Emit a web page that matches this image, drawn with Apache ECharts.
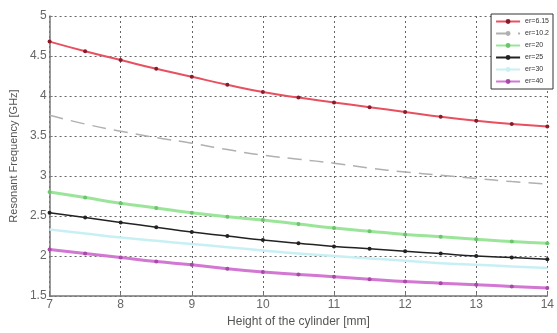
<!DOCTYPE html>
<html><head><meta charset="utf-8">
<script src="https://cdn.jsdelivr.net/npm/echarts@6/dist/echarts.min.js"></script>
<style>html,body{margin:0;padding:0;background:#fff}#c{width:557px;height:333px}</style>
</head><body><div id="c"></div>
<script>
const heights = [7,7.5,8,8.5,9,9.5,10,10.5,11,11.5,12,12.5,13,13.5,14];
const seriesNames = ['er=6.15','er=10.2','er=20','er=25','er=30','er=40'];
const er615 = [4.68,4.56,4.45,4.34,4.24,4.14,4.05,3.98,3.92,3.86,3.80,3.74,3.69,3.65,3.62];
const er102 = [3.76,3.65,3.56,3.48,3.41,3.33,3.26,3.21,3.16,3.10,3.05,3.01,2.97,2.93,2.90];
const er20  = [2.80,2.73,2.66,2.60,2.54,2.49,2.45,2.40,2.35,2.31,2.27,2.24,2.21,2.18,2.16];
const er25  = [2.54,2.48,2.42,2.36,2.30,2.25,2.20,2.16,2.12,2.09,2.06,2.03,2.00,1.98,1.96];
const er30  = [2.33,2.28,2.23,2.19,2.15,2.11,2.07,2.03,2.00,1.97,1.94,1.91,1.89,1.87,1.85];
const er40  = [2.08,2.03,1.98,1.93,1.89,1.84,1.80,1.77,1.74,1.71,1.68,1.66,1.64,1.62,1.60];
const yTicks = [1.5,2,2.5,3,3.5,4,4.5,5];
const xTicks = [7,8,9,10,11,12,13,14];

const pair = arr => heights.map((h,i)=>[h,arr[i]]);
const styles = [
  {c:'#e8505f', w:2, t:'solid', sym:'circle', ss:4, sc:'#8a1a2a'},
  {c:'#b0b0b0', w:1.5, t:[14,8], sym:'none'},
  {c:'#9be59b', w:3, t:'solid', sym:'circle', ss:4, sc:'#6cc46c'},
  {c:'#222222', w:1.5, t:'solid', sym:'circle', ss:4, sc:'#222222'},
  {c:'#c8f0f4', w:2.5, t:'solid', sym:'none'},
  {c:'#d277d2', w:3, t:'solid', sym:'circle', ss:4, sc:'#a64aa6'}
];
const datas = [er615, er102, er20, er25, er30, er40];
const gridLine = {show:true, lineStyle:{color:'#666', type:[2,3], width:1}};
const chart = echarts.init(document.getElementById('c'), null, {renderer:'canvas'});
chart.setOption({
  animation:false,
  textStyle:{fontFamily:'Liberation Sans, Arial, sans-serif'},
  grid:{left:49, right:4, top:16, bottom:37},
  legend:{
    orient:'vertical', right:4, top:14, data:seriesNames,
    itemWidth:24, itemHeight:6, itemGap:5,
    backgroundColor:'#fff', borderColor:'#333', borderWidth:1, padding:[4,4],
    textStyle:{fontSize:7, color:'#333'}
  },
  xAxis:{
    type:'value', min:7, max:14, interval:1,
    name:'Height of the cylinder [mm]', nameLocation:'middle', nameGap:20,
    nameTextStyle:{fontSize:12, color:'#555'},
    axisLine:{show:true, onZero:false, lineStyle:{color:'#777', width:1.5}},
    axisTick:{show:true, inside:true, length:3, lineStyle:{color:'#777'}},
    axisLabel:{fontSize:12, color:'#666', margin:3, formatter:v=>xTicks.includes(v)?String(v):''},
    splitLine:gridLine
  },
  yAxis:{
    type:'value', min:1.5, max:5, interval:0.5,
    name:'Resonant Frequency [GHz]', nameLocation:'middle', nameGap:28,
    nameTextStyle:{fontSize:11, color:'#555'},
    axisLine:{show:true, onZero:false, lineStyle:{color:'#777', width:1.5}},
    axisTick:{show:true, inside:true, length:3, lineStyle:{color:'#777'}},
    axisLabel:{fontSize:12, color:'#666', margin:3, formatter:v=>yTicks.includes(v)?String(v):''},
    splitLine:gridLine
  },
  series: seriesNames.map((n,i)=>({
    name:n, type:'line', smooth:true, data:pair(datas[i]),
    symbol:styles[i].sym, symbolSize:styles[i].ss||0, showSymbol:styles[i].sym!=='none',
    itemStyle:{color:styles[i].sc||styles[i].c},
    lineStyle:{color:styles[i].c, width:styles[i].w, type:styles[i].t},
    z: 10-i
  }))
});
</script></body></html>
